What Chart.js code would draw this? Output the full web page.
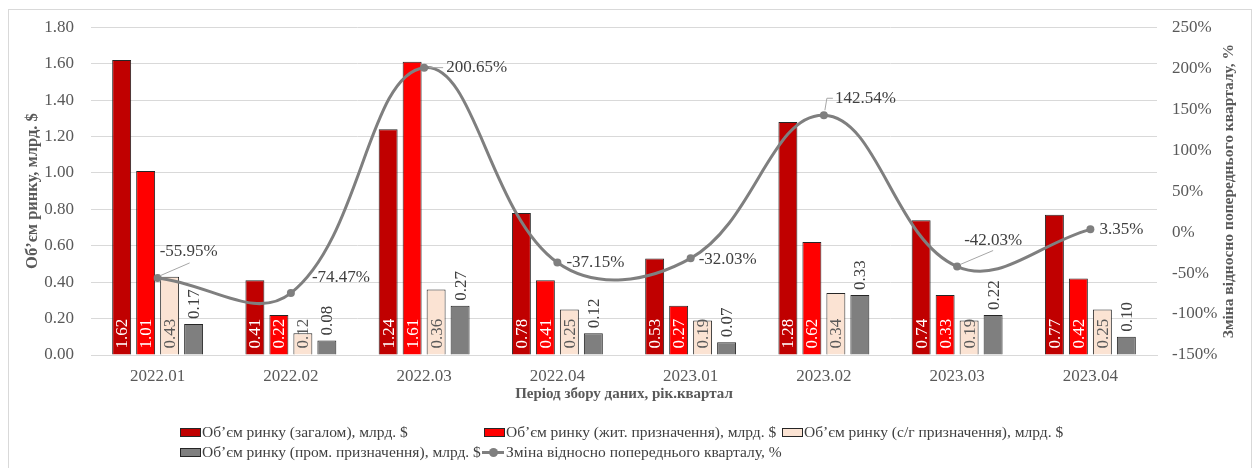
<!DOCTYPE html>
<html>
<head>
<meta charset="utf-8">
<script src="https://cdn.jsdelivr.net/npm/chart.js@4.4.0/dist/chart.umd.min.js"></script>
<style>
    body { margin: 0; background: #fff; width: 1253px; height: 468px; overflow: hidden; position: relative; font-family: 'Liberation Serif', 'Times New Roman', serif; }
    #frame { position: absolute; left: 8px; top: 9px; width: 1244px; height: 470px; border: 1px solid #d9d9d9; box-sizing: border-box; }
    #chart { position: absolute; left: 0; top: 0; }
    .leg { position: absolute; display: flex; align-items: center; font-size: 15.5px; color: #404040; white-space: nowrap; line-height: 18px; }
    .box { width: 19px; height: 7px; border: 1px solid #262626; margin-right: 1px; }
    .ln { position: relative; width: 22px; height: 3px; background: #7f7f7f; margin: 0 2px 0 1px; }
    .ln::after { content: ''; position: absolute; left: 7px; top: -3px; width: 9px; height: 9px; border-radius: 50%; background: #7f7f7f; }
</style>
</head>
<body>
<div id="frame"></div>
<canvas id="chart" width="1253" height="468"></canvas>
<div id="legend"></div>
<script>
// Data
const quarters = ['2022.01', '2022.02', '2022.03', '2022.04', '2023.01', '2023.02', '2023.03', '2023.04'];
const marketTotal = [1.62, 0.41, 1.24, 0.78, 0.53, 1.28, 0.74, 0.77];
const marketResidential = [1.01, 0.22, 1.61, 0.41, 0.27, 0.62, 0.33, 0.42];
const marketAgri = [0.43, 0.12, 0.36, 0.25, 0.19, 0.34, 0.19, 0.25];
const marketIndustrial = [0.17, 0.08, 0.27, 0.12, 0.07, 0.33, 0.22, 0.10];
const changePct = [-55.95, -74.47, 200.65, -37.15, -32.03, 142.54, -42.03, 3.35];

const labelsTotal = 'Об’єм ринку (загалом), млрд. $';
const labelsResidential = 'Об’єм ринку (жит. призначення), млрд. $';
const labelsAgri = 'Об’єм ринку (с/г призначення), млрд. $';
const labelsIndustrial = 'Об’єм ринку (пром. призначення), млрд. $';
const labelsChange = 'Зміна відносно попереднього кварталу, %';

// where the % labels sit relative to their point: [dx, dy, leader path]
const changeLabelPos = [
    [2, -26, [[2, -2], [32, -15]]],
    [21, -16, null],
    [22, 0, [[5, 0], [19, 0]]],
    [9, 0, null],
    [8, 1, null],
    [11, -17, [[1, -5], [3, -17], [9, -17]]],
    [7, -26, [[3, -2], [36, -16]]],
    [9, 0, null]
];

const FONT = "'Liberation Serif', 'Times New Roman', serif";
const TEXT = '#595959';

const valueLabels = {
    id: 'valueLabels',
    afterDatasetsDraw(chart) {
        const ctx = chart.ctx;
        ctx.save();
        ctx.font = `17px ${FONT}`;
        chart.data.datasets.forEach((ds, i) => {
            const meta = chart.getDatasetMeta(i);
            if (ds.type === 'line') {
                meta.data.forEach((pt, j) => {
                    const [dx, dy, leader] = changeLabelPos[j];
                    if (leader) {
                        ctx.strokeStyle = '#a6a6a6';
                        ctx.lineWidth = 1;
                        ctx.beginPath();
                        leader.forEach(([lx, ly], k) => {
                            if (k === 0) ctx.moveTo(pt.x + lx, pt.y + ly);
                            else ctx.lineTo(pt.x + lx, pt.y + ly);
                        });
                        ctx.stroke();
                    }
                    ctx.fillStyle = '#404040';
                    ctx.textAlign = 'left';
                    ctx.textBaseline = 'middle';
                    ctx.fillText(ds.data[j].toFixed(2) + '%', pt.x + dx, pt.y + dy);
                });
                return;
            }
            meta.data.forEach((bar, j) => {
                const txt = ds.data[j].toFixed(2);
                ctx.save();
                if (ds.labelInside) ctx.translate(bar.x, bar.base - 6);
                else ctx.translate(bar.x, bar.y - 5);
                ctx.rotate(-Math.PI / 2);
                ctx.fillStyle = ds.labelColor;
                ctx.textAlign = 'left';
                ctx.textBaseline = 'middle';
                ctx.fillText(txt, 0, 1);
                ctx.restore();
            });
        });
        ctx.restore();
    },
    afterDraw(chart) {
        // right axis title reads bottom-to-top like the left one
        const ctx = chart.ctx;
        const area = chart.chartArea;
        ctx.save();
        ctx.translate(1229, (area.top + area.bottom) / 2);
        ctx.rotate(-Math.PI / 2);
        ctx.font = `bold 15.5px ${FONT}`;
        ctx.fillStyle = TEXT;
        ctx.textAlign = 'center';
        ctx.textBaseline = 'middle';
        ctx.fillText(labelsChange, 0, 0);
        ctx.restore();
    }
};

const ctx = document.getElementById('chart').getContext('2d');
new Chart(ctx, {
    type: 'bar',
    data: {
        labels: quarters,
        datasets: [
            {
                type: 'line',
                label: labelsChange,
                data: changePct,
                yAxisID: 'y1',
                borderColor: '#7f7f7f',
                backgroundColor: '#7f7f7f',
                borderWidth: 3,
                pointRadius: 4,
                pointBorderWidth: 0,
                tension: 0.4,
                order: 0
            },
            { label: labelsTotal, data: marketTotal, backgroundColor: '#c00000', labelColor: '#fff', labelInside: true, order: 1 },
            { label: labelsResidential, data: marketResidential, backgroundColor: '#ff0000', labelColor: '#fff', labelInside: true, order: 1 },
            { label: labelsAgri, data: marketAgri, backgroundColor: '#fbe3d3', labelColor: TEXT, labelInside: true, order: 1 },
            { label: labelsIndustrial, data: marketIndustrial, backgroundColor: '#7f7f7f', labelColor: '#404040', labelInside: false, order: 1 }
        ].map(ds => ds.type === 'line' ? ds : Object.assign(ds, {
            borderColor: '#262626',
            borderWidth: 1,
            categoryPercentage: 0.72,
            barPercentage: 0.79
        }))
    },
    options: {
        responsive: false,
        animation: false,
        devicePixelRatio: 1,
        layout: { padding: { left: 0, right: 0, top: 26, bottom: 64.6 } },
        plugins: { legend: { display: false }, tooltip: { enabled: false } },
        scales: {
            x: {
                grid: { display: false, drawTicks: false },
                border: { color: '#d9d9d9' },
                ticks: { color: TEXT, padding: 11, font: { family: FONT, size: 17 } },
                title: { display: true, text: 'Період збору даних, рік.квартал', color: TEXT, padding: 0, font: { family: FONT, size: 15, weight: 'bold' } },
                afterFit: s => { s.height = 48.4; }
            },
            y: {
                position: 'left',
                min: 0, max: 1.8,
                grid: { color: '#d9d9d9', drawTicks: false },
                border: { display: false },
                ticks: { stepSize: 0.2, color: TEXT, padding: 17, font: { family: FONT, size: 17 }, callback: v => v.toFixed(2) },
                title: { display: true, text: 'Об’єм ринку, млрд. $', color: TEXT, padding: { top: 23, bottom: 0 }, font: { family: FONT, size: 16.5, weight: 'bold' } },
                afterFit: s => { s.width = 91; }
            },
            y1: {
                position: 'right',
                min: -150, max: 250,
                grid: { display: false, drawTicks: false },
                border: { display: false },
                ticks: { stepSize: 50, color: TEXT, padding: 15, font: { family: FONT, size: 17 }, callback: v => v + '%' },
                afterFit: s => { s.width = 96; }
            }
        }
    },
    plugins: [valueLabels]
});

// Legend laid out like the original two rows
const legendItems = [
    { text: labelsTotal, color: '#c00000', left: 180, top: 423 },
    { text: labelsResidential, color: '#ff0000', left: 484, top: 423 },
    { text: labelsAgri, color: '#fbe3d3', left: 782, top: 423 },
    { text: labelsIndustrial, color: '#7f7f7f', left: 180, top: 443 }
];
const legend = document.getElementById('legend');
legend.innerHTML = legendItems.map(it => `
    <div class="leg" style="left:${it.left}px;top:${it.top}px">
        <span class="box" style="background:${it.color}"></span><span>${it.text}</span>
    </div>`).join('');
const row2 = legend.lastElementChild;
const lineItem = document.createElement('div');
lineItem.className = 'leg';
lineItem.style.top = '443px';
lineItem.style.left = (180 + row2.offsetWidth) + 'px';
lineItem.innerHTML = `<span class="ln"></span><span>${labelsChange}</span>`;
legend.appendChild(lineItem);
</script>
</body>
</html>
